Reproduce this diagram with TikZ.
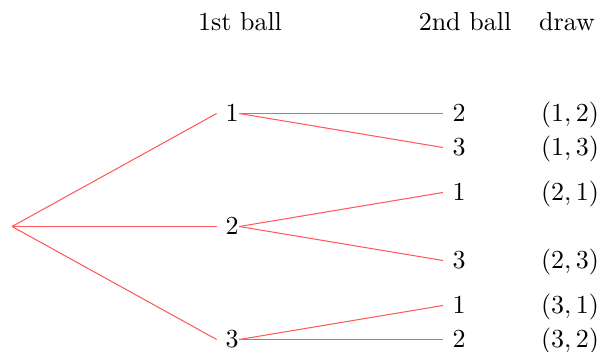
\documentclass[tikz,border=0pt]{standalone}
\begin{document}
\begin{tikzpicture}[x=0.3846pt,y=-0.3846pt,
  lbl/.style={inner sep=0pt,outer sep=0pt},
  edge/.style={draw=red!65,line width=0.4pt}]
\useasboundingbox (0,0) rectangle (602,352);
% headers
\node[lbl,anchor=base] (h1) at (240,31) {1st ball};
\node[lbl,anchor=base] (h2) at (465,31) {2nd ball};
\node[lbl,anchor=base] (h3) at (567,31) {draw};
% root
\coordinate (r) at (12,226.5);
% first ball
\node[lbl] (a1) at (232,113.5) {$1$};
\node[lbl] (a2) at (232,226.5) {$2$};
\node[lbl] (a3) at (232,339.5) {$3$};
% second ball
\node[lbl] (b12) at (459,113.5) {$2$};
\node[lbl] (b13) at (459,147.5) {$3$};
\node[lbl] (b21) at (459,192.5) {$1$};
\node[lbl] (b23) at (459,260.5) {$3$};
\node[lbl] (b31) at (459,305.5) {$1$};
\node[lbl] (b32) at (459,339.5) {$2$};
% draws
\coordinate (dx) at (570,0);
\node[lbl,anchor=base] (d12) at (b12.base -| dx) {$(1,2)$};
\node[lbl,anchor=base] (d13) at (b13.base -| dx) {$(1,3)$};
\node[lbl,anchor=base] (d21) at (b21.base -| dx) {$(2,1)$};
\node[lbl,anchor=base] (d23) at (b23.base -| dx) {$(2,3)$};
\node[lbl,anchor=base] (d31) at (b31.base -| dx) {$(3,1)$};
\node[lbl,anchor=base] (d32) at (b32.base -| dx) {$(3,2)$};
% edges
\foreach \n in {a1,a2,a3}
  \draw[edge] (r) -- ([xshift=-3.4pt]\n.west);
\draw[edge] ([xshift=0.3pt]a1.east) -- ([xshift=-3.7pt]b12.west);
\draw[edge] ([xshift=0.3pt]a1.east) -- ([xshift=-3.7pt]b13.west);
\draw[edge] ([xshift=0.3pt]a2.east) -- ([xshift=-3.7pt]b21.west);
\draw[edge] ([xshift=0.3pt]a2.east) -- ([xshift=-3.7pt]b23.west);
\draw[edge] ([xshift=0.3pt]a3.east) -- ([xshift=-3.7pt]b31.west);
\draw[edge] ([xshift=0.3pt]a3.east) -- ([xshift=-3.7pt]b32.west);
\end{tikzpicture}
\end{document}
